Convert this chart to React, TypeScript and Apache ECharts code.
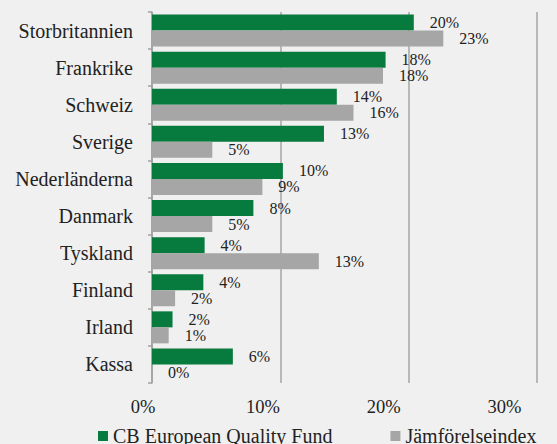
import React, { useEffect, useRef } from "react";
import * as echarts from "echarts";

const categories = [
  "Storbritannien",
  "Frankrike",
  "Schweiz",
  "Sverige",
  "Nederländerna",
  "Danmark",
  "Tyskland",
  "Finland",
  "Irland",
  "Kassa",
];
const fundName = "CB European Quality Fund";
const indexName = "Jämförelseindex";
const fundValues = [20.4, 18.2, 14.4, 13.4, 10.2, 7.9, 4.1, 4.0, 1.6, 6.3];
const indexValues = [22.7, 18.0, 15.7, 4.7, 8.6, 4.7, 13.0, 1.8, 1.3, 0];
const xTicks = [0, 10, 20, 30];

const FONT = "'Liberation Serif', 'Times New Roman', serif";

export default function App() {
  const ref = useRef<HTMLDivElement>(null);
  useEffect(() => {
    document.body.style.margin = "0";
    const chart = echarts.init(ref.current!, null, { renderer: "svg" });
    const labelPad = [18, 35, 50, 65];
    const rich: Record<string, any> = {};
    xTicks.forEach((_, i) => {
      rich["a" + i] = {
        fontFamily: FONT,
        fontSize: 18.5,
        color: "#222",
        padding: [0, labelPad[i], 0, 0],
      };
    });
    const valueLabel = {
      show: true,
      position: "right" as const,
      distance: 16,
      fontFamily: FONT,
      fontSize: 16,
      lineHeight: 15,
      color: "#222",
      formatter: (p: any) => Math.round(p.value) + "%",
    };
    chart.setOption({
      animation: false,
      backgroundColor: "#f0f0f0",
      grid: { left: 152, right: 20, top: 12, bottom: 61, containLabel: false },
      legend: {
        left: 93,
        top: 421,
        itemWidth: 10,
        itemHeight: 10,
        itemGap: 58,
        icon: "rect",
        textStyle: { fontFamily: FONT, fontSize: 20, color: "#222" },
        data: [fundName, indexName],
      },
      xAxis: {
        type: "value",
        min: 0,
        max: 30,
        interval: 10,
        axisLine: { show: false },
        axisTick: { show: false },
        splitLine: { show: true, lineStyle: { color: "#a6a6a6", width: 1.5 } },
        axisLabel: {
          margin: 14,
          formatter: (v: number) => {
            const i = xTicks.indexOf(v);
            return `{a${i}|${v}%}`;
          },
          rich,
        },
      },
      yAxis: {
        type: "category",
        inverse: true,
        data: categories,
        axisLine: { show: true, lineStyle: { color: "#a0a0a0", width: 1.5 } },
        axisTick: { show: true, length: 4, lineStyle: { color: "#a0a0a0", width: 1.5 } },
        axisLabel: { margin: 19, fontFamily: FONT, fontSize: 20, color: "#222" },
      },
      series: [
        {
          name: fundName,
          type: "bar",
          data: fundValues,
          barWidth: 16,
          barGap: "0%",
          itemStyle: { color: "#077a3d" },
          label: valueLabel,
        },
        {
          name: indexName,
          type: "bar",
          data: indexValues,
          barWidth: 16,
          barGap: "0%",
          itemStyle: { color: "#a6a6a6" },
          label: valueLabel,
        },
      ],
    });
    return () => chart.dispose();
  }, []);
  return (
    <div
      ref={ref}
      style={{ position: "absolute", left: 0, top: 0, width: 557, height: 444 }}
    />
  );
}
